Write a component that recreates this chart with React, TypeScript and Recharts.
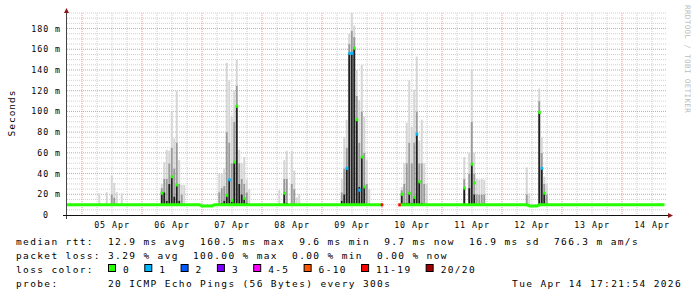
import React from 'react';
import { ComposedChart, Bar, Line, Scatter, XAxis, YAxis, CartesianGrid } from 'recharts';

const W = 697;
const H = 297;
const MONO = '"DejaVu Sans Mono", monospace';

// x = hours since 04 Apr 18:00, 10 days on the axis
const dayTicks = [18, 42, 66, 90, 114, 138, 162, 186, 210, 234];
const dayLabels = ['05 Apr', '06 Apr', '07 Apr', '08 Apr', '09 Apr', '10 Apr', '11 Apr', '12 Apr', '13 Apr', '14 Apr'];
const midnights = [6, 30, 54, 78, 102, 126, 150, 174, 198, 222];

const rttTicks = [0, 20, 40, 60, 80, 100, 120, 140, 160, 180];
const rttLabels = ['0', '20 m', '40 m', '60 m', '80 m', '100 m', '120 m', '140 m', '160 m', '180 m'];

const lossLabels = ['0', '1', '2', '3', '4-5', '6-10', '11-19', '20/20'];
const lossColors = ['#26ff00', '#00b8ff', '#0059ff', '#7e00ff', '#ff00ff', '#ff5500', '#ff0000', '#a10000'];

// smoke columns in ms: [hour, dark top, grey top, max]
const smoke: [number, number | null, number | null, number][] = [
	[13, null, null, 21], [16, null, null, 22], [18, null, 20, 38], [19, null, 17, 31], [20, null, null, 22], [22, null, null, 21],
	[38, 22, 26, 30], [39, 22, 35, 51], [40, 14, 35, 63], [41, 30, 50, 62], [42, 37, 65, 100], [43, 18, 45, 74],
	[44, 29, 70, 120], [45, 14, 30, 53], [46, null, 20, 29], [47, null, null, 29],
	[61, null, 22, 40], [62, 12, 26, 40], [63, 14, 28, 45], [64, 19, 80, 147], [65, 34, 70, 130], [66, 14, 50, 95],
	[67, 51, 90, 120], [68, 106, 125, 150], [69, 30, 50, 63], [70, 20, 35, 50], [71, 16, 30, 56], [72, 12, 22, 34], [73, null, null, 25],
	[85, null, null, 24], [87, 21, 35, 53], [88, 12, 35, 62], [90, 11, 30, 62], [91, null, 25, 43], [92, null, null, 17], [93, null, null, 20],
	[110, 14, 22, 35], [111, 20, 45, 75], [112, 46, 65, 92], [113, 156, 165, 175], [114, 156, 178, 195], [115, 161, 172, 183],
	[116, 92, 115, 140], [117, 27, 70, 111], [118, 56, 100, 145], [119, 27, 60, 95], [120, 10, 30, 53], [121, null, null, 25],
	[134, 21, 24, 27], [135, 12, 30, 50], [136, 12, 50, 89], [137, 21, 70, 130], [138, 12, 50, 85], [139, 17, 70, 121],
	[140, 79, 100, 153], [141, 32, 50, 72], [142, 12, 50, 92], [143, null, 30, 50], [144, null, null, 30],
	[159, 26, 35, 56], [161, 26, 40, 60], [162, 50, 90, 140], [163, 20, 40, 60], [164, null, 20, 35], [165, null, 20, 34],
	[166, null, 20, 35], [167, null, 20, 34],
	[184, null, 20, 46], [185, null, null, 21], [189, 99, 110, 122], [190, 45, 60, 75], [191, 21, 30, 37], [192, null, 20, 30],
];

// median marks inside the smoke: [hour, ms, loss class]
const medians: [number, number, number][] = [
	[38, 21, 0], [42, 37, 0], [44, 29, 0],
	[64, 19, 0], [65, 34, 1], [66, 14, 0], [67, 51, 0], [68, 105, 0], [71, 16, 0],
	[87, 21, 0],
	[112, 45, 1], [113, 156, 1], [114, 156, 1], [115, 161, 0], [116, 92, 0], [117, 24, 1], [118, 56, 0], [119, 27, 0],
	[126, 9.8, 6], [133, 9.8, 6],
	[134, 20, 0], [137, 21, 0], [139, 17, 0], [140, 78, 1], [141, 32, 0],
	[159, 26, 0], [162, 49, 0], [163, 31, 0],
	[189, 99, 0], [190, 45, 1], [191, 21, 0],
];

// median line before and after the outage on 09 Apr
const baselineA: [number, number][] = [[0, 9.8], [53, 9.8], [54, 8.8], [58, 8.8], [59, 9.8], [126, 9.8]];
const baselineB: [number, number][] = [[133, 9.8], [184, 9.8], [185, 8.8], [188, 8.8], [189, 9.8], [239, 9.8]];

const SMOKE_FLOOR = 9.4;

type Row = { h: number; [k: string]: number };
const byHour = new Map<number, Row>();
const rowAt = (h: number) => {
	if (!byHour.has(h)) byHour.set(h, { h });
	return byHour.get(h)!;
};
smoke.forEach(([h, dark, grey, max]) => {
	const r = rowAt(h);
	const d = dark ?? SMOKE_FLOOR;
	const g = grey ?? d;
	r.floor = SMOKE_FLOOR;
	r.dark = d - SMOKE_FLOOR;
	r.grey = g - d;
	r.light = max - g;
});
medians.forEach(([h, v, loss]) => {
	const r = rowAt(h);
	r.med = v;
	r.loss = loss;
});
baselineA.forEach(([h, v]) => (rowAt(h).baseA = v));
baselineB.forEach(([h, v]) => (rowAt(h).baseB = v));
const rows = [...byHour.values()].sort((a, b) => a.h - b.h);

const minorHours = Array.from({ length: 39 }, (_, i) => (i + 1) * 6).filter((h) => !midnights.includes(h));
const minorRtt = Array.from({ length: 39 }, (_, i) => (i + 1) * 5).filter((v) => v % 20 !== 0);
const majorRtt = rttTicks.slice(1);

const DayTick = ({ x, y, payload }: any) => (
	<text x={x} y={y + 12.5} textAnchor="middle" fontFamily={MONO} fontSize={8.3} letterSpacing={0.95} fill="#000">
		{dayLabels[dayTicks.indexOf(payload.value)]}
	</text>
);

const RttTick = ({ x, y, payload }: any) => {
	const label = rttLabels[rttTicks.indexOf(payload.value)];
	const shift = label.endsWith(' m') ? 0 : 12;
	return (
		<text x={x - 6 - shift} y={y} dy="0.36em" textAnchor="end" fontFamily={MONO} fontSize={8.3} letterSpacing={0.95} fill="#000">
			{label}
		</text>
	);
};

const MedianMark = (p: any) => {
	if (p.payload?.med == null || !Number.isFinite(p.cy)) return <g />;
	return <rect x={p.cx - 1.25} y={p.cy - 1.5} width={2.5} height={3} fill={lossColors[p.payload.loss]} />;
};

const legendText = {
	fontFamily: MONO,
	fontSize: 9.5,
	letterSpacing: 1.36,
	fill: '#000',
};

export default function App() {
	let sx = 108;
	const lossItems = lossLabels.map((label, i) => {
		const x = sx;
		sx += (label.length + 4) * 7.06 + 1;
		return (
			<g key={label}>
				<rect x={x + 0.5} y={264.5} width={7} height={7} fill={lossColors[i]} stroke="#000" />
				<text x={x + 15} y={272.5} {...legendText}>{label}</text>
			</g>
		);
	});

	return (
		<div style={{ position: 'absolute', left: 0, top: 0, width: W, height: H, background: '#fff' }}>
			<ComposedChart
				width={W}
				height={H}
				data={rows}
				margin={{ top: 13, right: 30, bottom: 62, left: 7 }}
				barSize={2}
				barGap={0}>
				<CartesianGrid stroke="#cfcfcf" strokeDasharray="1 1" horizontalValues={minorRtt} verticalValues={minorHours} />
				<CartesianGrid stroke="#e79a9a" strokeDasharray="1 1" horizontalValues={majorRtt} verticalValues={midnights} />
				<XAxis
					dataKey="h"
					type="number"
					domain={[0, 240]}
					ticks={dayTicks}
					interval={0}
					allowDataOverflow
					axisLine={false}
					tickLine={false}
					tickSize={0}
					tickMargin={0}
					height={20}
					tick={DayTick}
				/>
				<YAxis
					type="number"
					domain={[0, 195]}
					ticks={rttTicks}
					interval={0}
					allowDataOverflow
					axisLine={false}
					tickLine={false}
					tickSize={0}
					tickMargin={0}
					width={60}
					tick={RttTick}
				/>
				<Bar dataKey="floor" stackId="s" fill="none" isAnimationActive={false} />
				<Bar dataKey="dark" stackId="s" fill="#202020" isAnimationActive={false} />
				<Bar dataKey="grey" stackId="s" fill="#9a9a9a" isAnimationActive={false} />
				<Bar dataKey="light" stackId="s" fill="#d6d6d6" isAnimationActive={false} />
				<Line dataKey="baseA" stroke="#26ff00" strokeWidth={3} dot={false} connectNulls isAnimationActive={false} />
				<Line dataKey="baseB" stroke="#26ff00" strokeWidth={3} dot={false} connectNulls isAnimationActive={false} />
				<Scatter dataKey="med" shape={MedianMark} isAnimationActive={false} />
			</ComposedChart>

			<svg width={W} height={H} style={{ position: 'absolute', left: 0, top: 0, pointerEvents: 'none' }}>
				<line x1={66.5} y1={219} x2={66.5} y2={11} stroke="#444" />
				<line x1={63} y1={215.5} x2={669} y2={215.5} stroke="#111" />
				<polygon points="64,13 69,13 66.5,8" fill="#8b1a1a" />
				<polygon points="668,213 668,218 673,215.5" fill="#8b1a1a" />
				<text
					transform="translate(15,113) rotate(-90)"
					textAnchor="middle"
					fontFamily={MONO}
					fontSize={9.5}
					letterSpacing={1}
					fill="#000">
					Seconds
				</text>
				<text transform="translate(685,5) rotate(90)" fontFamily={MONO} fontSize={7.5} letterSpacing={0.4} fill="#bcbcbc">
					RRDTOOL / TOBI OETIKER
				</text>
				<text x={16} y={244.5} xmlSpace="preserve" {...legendText}>
					median rtt:  12.9 ms avg  160.5 ms max  9.6 ms min  9.7 ms now  16.9 ms sd  766.3 m am/s
				</text>
				<text x={16} y={258.5} xmlSpace="preserve" {...legendText}>
					packet loss: 3.29 % avg  100.00 % max  0.00 % min  0.00 % now
				</text>
				<text x={16} y={272.5} {...legendText}>loss color:</text>
				{lossItems}
				<text x={16} y={286.5} xmlSpace="preserve" {...legendText}>
					probe:       20 ICMP Echo Pings (56 Bytes) every 300s
				</text>
				<text x={682} y={286.5} textAnchor="end" {...legendText}>
					Tue Apr 14 17:21:54 2026
				</text>
			</svg>
		</div>
	);
}
